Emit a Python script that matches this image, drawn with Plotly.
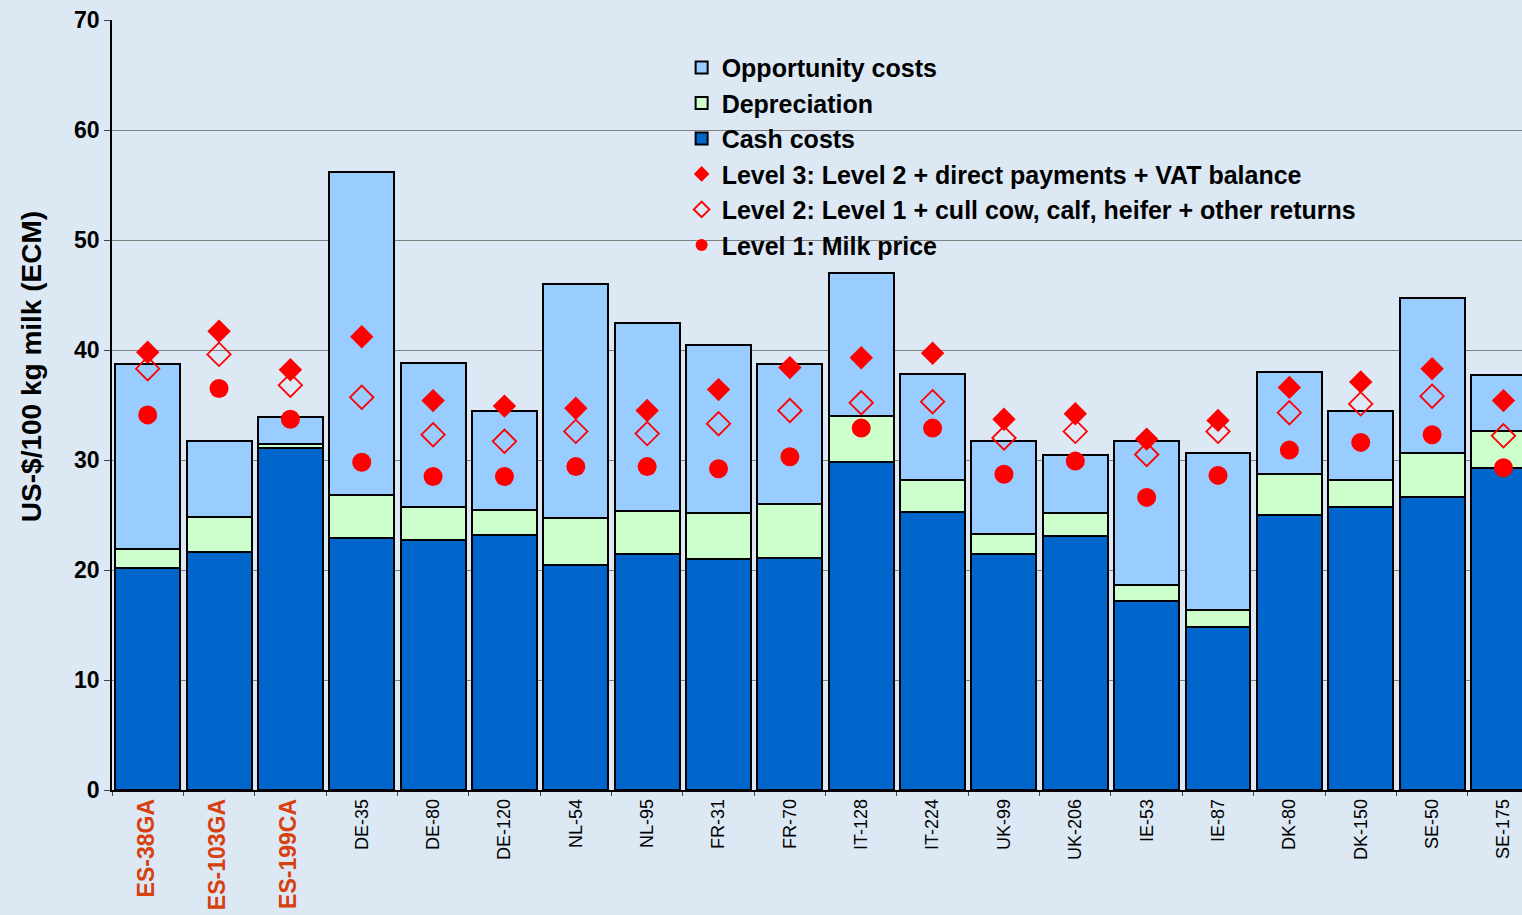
import plotly.graph_objects as go

# ── data (US-$/100 kg milk, ECM) ──
farms = [
    "ES-38GA", "ES-103GA", "ES-199CA", "DE-35", "DE-80", "DE-120", "NL-54",
    "NL-95", "FR-31", "FR-70", "IT-128", "IT-224", "UK-99", "UK-206",
    "IE-53", "IE-87", "DK-80", "DK-150", "SE-50", "SE-175",
]
highlight = ["ES-38GA", "ES-103GA", "ES-199CA"]

# cumulative tops of each stacked block
cash_top = [20.2, 21.6, 31.1, 22.9, 22.7, 23.2, 20.5, 21.5, 21.0, 21.1,
            29.8, 25.3, 21.5, 23.1, 17.2, 14.8, 25.0, 25.7, 26.6, 29.3]
depr_top = [21.9, 24.8, 31.5, 26.8, 25.7, 25.5, 24.7, 25.4, 25.2, 26.0,
            34.0, 28.2, 23.3, 25.2, 18.6, 16.4, 28.7, 28.2, 30.6, 32.6]
opp_top = [38.7, 31.7, 33.9, 56.2, 38.8, 34.5, 46.0, 42.5, 40.5, 38.7,
           47.0, 37.8, 31.7, 30.5, 31.7, 30.6, 38.0, 34.5, 44.7, 37.7]

level3 = [39.8, 41.7, 38.2, 41.2, 35.4, 34.9, 34.7, 34.5, 36.4, 38.4,
          39.3, 39.7, 33.7, 34.2, 31.9, 33.6, 36.6, 37.1, 38.3, 35.4]
level2 = [38.3, 39.6, 36.8, 35.7, 32.3, 31.7, 32.6, 32.4, 33.3, 34.5,
          35.2, 35.3, 32.0, 32.6, 30.5, 32.6, 34.3, 35.1, 35.8, 32.2]
level1 = [34.1, 36.5, 33.7, 29.8, 28.5, 28.5, 29.4, 29.4, 29.2, 30.3,
          32.9, 32.9, 28.7, 29.9, 26.6, 28.6, 30.9, 31.6, 32.3, 29.3]

cash = cash_top
depr = [d - c for d, c in zip(depr_top, cash_top)]
opp = [o - d for o, d in zip(opp_top, depr_top)]

FONT = "Arial, Liberation Sans, sans-serif"
BG = "#dce8f4"

tick_text = []
for f in farms:
    if f in highlight:
        tick_text.append(f'<span style="font-size:23px;color:#d8400f"><b>{f}</b></span>')
    else:
        tick_text.append(f)

fig = go.Figure()

bar_line = dict(color="black", width=2)
fig.add_trace(go.Bar(x=farms, y=cash, name="Cash costs", legendrank=3,
                     marker=dict(color="#0066cc", line=bar_line)))
fig.add_trace(go.Bar(x=farms, y=depr, name="Depreciation", legendrank=2,
                     marker=dict(color="#ccffcc", line=bar_line)))
fig.add_trace(go.Bar(x=farms, y=opp, name="Opportunity costs", legendrank=1,
                     marker=dict(color="#99ccff", line=bar_line)))

fig.add_trace(go.Scatter(
    x=farms, y=level3, mode="markers", legendrank=4,
    name="Level 3: Level 2 + direct payments + VAT balance",
    marker=dict(symbol="diamond", size=18, color="#ff0000"),
))
fig.add_trace(go.Scatter(
    x=farms, y=level2, mode="markers", legendrank=5,
    name="Level 2: Level 1 + cull cow, calf, heifer + other returns",
    marker=dict(symbol="diamond-open", size=18, color="#ff0000", line=dict(width=1.8)),
))
fig.add_trace(go.Scatter(
    x=farms, y=level1, mode="markers", legendrank=6,
    name="Level 1: Milk price",
    marker=dict(symbol="circle", size=19, color="#ff0000"),
))

fig.update_layout(
    width=1522, height=915,
    barmode="stack", bargap=0.09,
    font=dict(family=FONT, color="black"),
    paper_bgcolor=BG, plot_bgcolor=BG,
    margin=dict(l=112, r=0, t=20, b=125, autoexpand=False),
    showlegend=True,
    legend=dict(
        x=0.404, y=0.968, xanchor="left", yanchor="top",
        traceorder="normal", bgcolor="rgba(0,0,0,0)",
        font=dict(family=FONT, size=25, color="black", weight="bold"),
        tracegroupgap=0, itemsizing="constant",
    ),
    annotations=[dict(
        text="<b>US-$/100 kg milk (ECM)</b>", textangle=-90,
        xref="paper", yref="paper", x=-0.057, y=0.55,
        xanchor="center", yanchor="middle", showarrow=False,
        font=dict(family=FONT, size=28, color="black"),
    )],
)

fig.update_xaxes(
    type="category", range=[-0.5, 19.26], automargin=False,
    tickmode="array", tickvals=farms, ticktext=tick_text,
    tickangle=-90, tickson="boundaries", ticks="outside", ticklen=4,
    tickfont=dict(family=FONT, size=18, color="black"),
    showline=True, linecolor="black", linewidth=1.5,
    showgrid=False,
)
fig.update_yaxes(
    range=[0, 70], dtick=10, ticks="outside", ticklen=6, automargin=False,
    tickfont=dict(family=FONT, size=23, color="black", weight="bold"),
    showline=True, linecolor="black", linewidth=1.5,
    showgrid=True, gridcolor="#7f7f7f", gridwidth=1,
    zeroline=False,
)

# drop the browser's default 8px body margin so the figure sits at the page origin
fig.write_html(
    "out.html",
    config={"displayModeBar": False},
    post_script="document.body.style.margin='0';document.body.style.background='%s';" % BG,
)
